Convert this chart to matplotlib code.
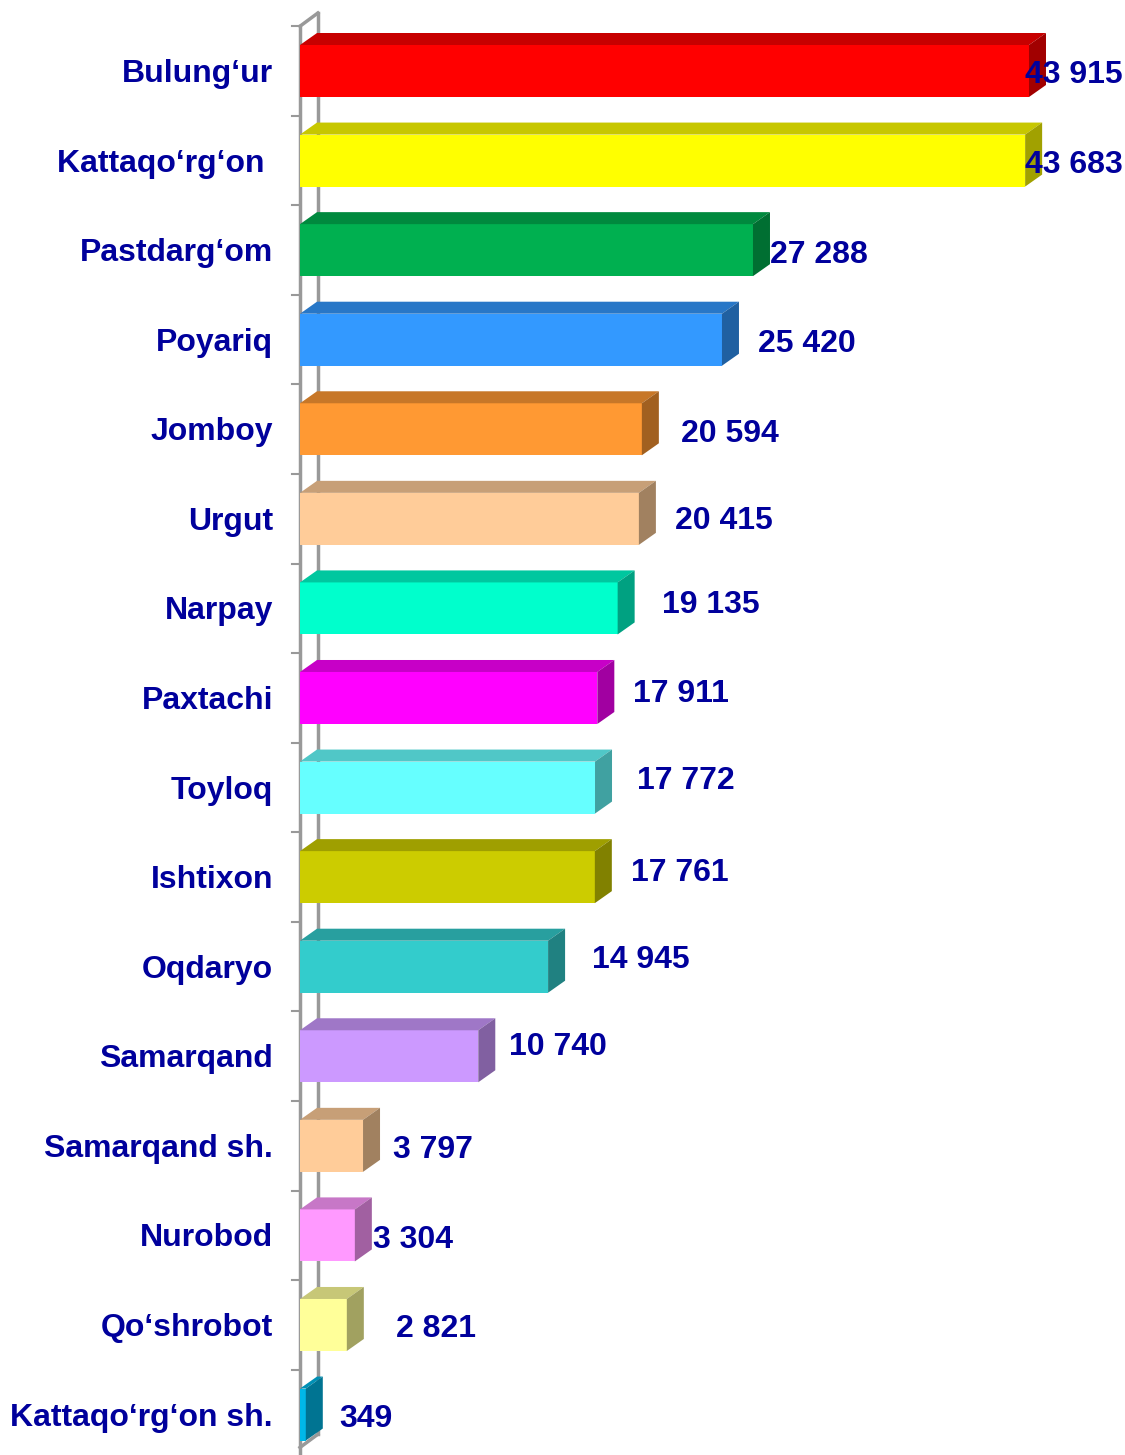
import numpy as np
import matplotlib
matplotlib.use("Agg")
import matplotlib.pyplot as plt

# data, top to bottom
districts = ["Bulung‘ur", "Kattaqo‘rg‘on ", "Pastdarg‘om", "Poyariq", "Jomboy",
             "Urgut", "Narpay", "Paxtachi", "Toyloq", "Ishtixon", "Oqdaryo",
             "Samarqand", "Samarqand sh.", "Nurobod", "Qo‘shrobot",
             "Kattaqo‘rg‘on sh."]
values = [43915, 43683, 27288, 25420, 20594, 20415, 19135, 17911, 17772,
          17761, 14945, 10740, 3797, 3304, 2821, 349]
value_labels = ["43 915", "43 683", "27 288", "25 420", "20 594", "20 415",
                "19 135", "17 911", "17 772", "17 761", "14 945", "10 740",
                "3 797", "3 304", "2 821", "349"]
bar_colors = ["#FF0000", "#FFFF00", "#00B050", "#3399FF", "#FF9933", "#FFCC99",
              "#00FFCC", "#FF00FF", "#66FFFF", "#CCCC00", "#33CCCC", "#CC99FF",
              "#FFCC99", "#FF99FF", "#FFFF99", "#00B8E8"]

# hand placed label nudges (pixels) from the original slide
label_dx = [-21, -17, 0, 19, 22, 19, 27, 19, 25, 19, 27, 14, 13, 1, 32, 16]
label_dy = [1, 1, 2, 1, 2, -1, -6, -7, -10, -7, -10, -12, 1, 2, 1, 1]

W, H, DPI = 1125, 1455, 100
px_per_val = 0.0166      # pixels per unit on x
px_per_cat = 89.57       # pixels between bars
x0_px, y0_px = 300, 71   # axis origin / first bar center in pixels

txt_color = "#00009C"
font = ["Liberation Sans", "DejaVu Sans"]
fs = 23
text_drop = 3            # matplotlib centers on the bbox, slide text sits lower

fig = plt.figure(figsize=(W / DPI, H / DPI), dpi=DPI)
ax = fig.add_axes([0, 0, 1, 1])
ax.set_xlim(-x0_px / px_per_val, (W - x0_px) / px_per_val)
ax.set_ylim((H - y0_px) / px_per_cat, -y0_px / px_per_cat)
ax.axis("off")

dx = 17 / px_per_val     # depth of the 3d effect
dy = 12 / px_per_cat
half = 26 / px_per_cat   # half height of the front face

def shade(c, f):
    rgb = np.array(matplotlib.colors.to_rgb(c)) * f
    return tuple(rgb)

# back wall
n = len(values)
top = -0.5
bot = n - 0.5 - 0.28
wall_c = "#999999"
ax.plot([0, 0], [top, bot + 0.3], color=wall_c, lw=2.5, zorder=1)
ax.plot([dx * 1.05, dx * 1.05], [top - dy * 1.1, bot], color=wall_c, lw=2.5, zorder=1)
ax.plot([0, dx * 1.05], [top, top - dy * 1.1], color=wall_c, lw=2.5, zorder=1)
ax.plot([0, dx * 1.05], [bot + dy * 1.1, bot], color=wall_c, lw=2.5, zorder=1)
tick_len = 8 / px_per_val
for k in range(n):
    ax.plot([-tick_len, 0], [k - 0.5, k - 0.5], color=wall_c, lw=1.5, zorder=1)

for i, (v, c) in enumerate(zip(values, bar_colors)):
    y1, y2 = i - half, i + half
    ax.fill([0, v, v, 0], [y1, y1, y2, y2], color=c, lw=0, zorder=3)
    ax.fill([0, v, v + dx, dx], [y1, y1, y1 - dy, y1 - dy],
            color=shade(c, 0.78), lw=0, zorder=3)
    ax.fill([v, v + dx, v + dx, v], [y1, y1 - dy, y2 - dy, y2],
            color=shade(c, 0.63), lw=0, zorder=3)

    ax.annotate(districts[i], (0, i), xytext=(-27, -text_drop),
                textcoords="offset pixels",
                ha="right", va="center", fontsize=fs, fontweight="bold",
                color=txt_color, family=font, zorder=4)
    ax.annotate(value_labels[i], (v + dx, i),
                xytext=(label_dx[i], -label_dy[i] - text_drop),
                textcoords="offset pixels", ha="left", va="center",
                fontsize=fs, fontweight="bold", color=txt_color,
                family=font, zorder=4)

fig.savefig("out.png", dpi=DPI)
